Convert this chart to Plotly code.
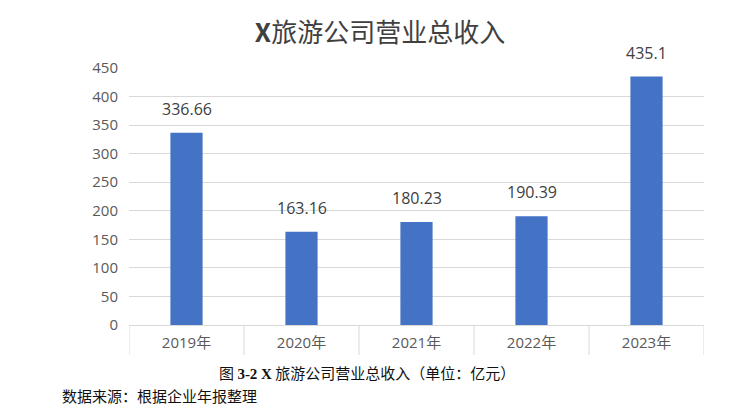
import plotly.graph_objects as go

categories = ["2019年", "2020年", "2021年", "2022年", "2023年"]
revenue = [336.66, 163.16, 180.23, 190.39, 435.1]
label_text = ["336.66", "163.16", "180.23", "190.39", "435.1"]
y_ticks = [0, 50, 100, 150, 200, 250, 300, 350, 400, 450]

# page body has an 8px default margin, so the figure is drawn 8px in
OFF = 8
W, H = 729 - OFF, 419 - OFF
ML, MR, MT, MB = 129 - OFF, 25, 68 - OFF, 94

fig = go.Figure()
fig.add_trace(go.Bar(
    x=categories, y=revenue,
    marker=dict(color="#4472C4", line=dict(width=0)),
    hoverinfo="skip",
))

# data labels above bars
for c, v, t in zip(categories, revenue, label_text):
    fig.add_annotation(x=c, y=v, xref="x", yref="y", text=t, showarrow=False,
                       yanchor="middle", yshift=24,
                       font=dict(family="Open Sans, Noto Sans", size=16, color="#404040"))

# category divider ticks below axis
plot_h = H - MT - MB
plot_w = W - ML - MR
for i in range(len(categories) + 1):
    fig.add_shape(type="line", xref="x", yref="paper",
                  x0=i - 0.5, x1=i - 0.5, y0=0, y1=-30 / plot_h,
                  line=dict(color="#D9D9D9", width=1))

fig.update_layout(
    width=W, height=H,
    margin=dict(l=ML, r=MR, t=MT, b=MB),
    paper_bgcolor="white", plot_bgcolor="white",
    bargap=0.72,
    showlegend=False,
    title=dict(text="<b>X</b>旅游公司营业总收入", x=(380 - OFF) / W, xanchor="center",
               xref="container", yref="container", y=1 - (33 - OFF) / H, yanchor="middle",
               font=dict(family="Noto Sans CJK SC", size=26, color="#404040")),
    xaxis=dict(
        type="category", range=[-0.5, 4.5],
        showgrid=False, showline=True, linecolor="#D9D9D9", linewidth=1,
        ticks="", ticklabelstandoff=4,
        tickfont=dict(family="Open Sans, Noto Sans CJK SC", size=15, color="#595959"),
    ),
    yaxis=dict(
        range=[0, 450], tickvals=y_ticks, ticktext=[str(v) for v in y_ticks],
        showgrid=True, gridcolor="#D9D9D9", gridwidth=1,
        zeroline=False, showline=False, ticks="", ticklabelstandoff=10,
        tickfont=dict(family="Open Sans, Noto Sans", size=15, color="#595959"),
    ),
    font=dict(family="Noto Sans CJK SC"),
)

# caption and source note (positions in page pixels converted to paper coords)
def px_x(px):
    return (px - OFF - ML) / plot_w

def px_y(py):
    return -(py - OFF - (H - MB)) / plot_h

fig.add_annotation(
    xref="paper", yref="paper", x=px_x(367), y=px_y(372),
    xanchor="center", yanchor="middle", showarrow=False,
    text='图 <span style="font-family:Liberation Serif"><b>3-2 X</b></span> 旅游公司营业总收入（单位：亿元）',
    font=dict(family="Noto Sans CJK SC", size=15, color="#111111"),
)
fig.add_annotation(
    xref="paper", yref="paper", x=px_x(60), y=px_y(395),
    xanchor="left", yanchor="middle", showarrow=False,
    text="数据来源：根据企业年报整理",
    font=dict(family="Noto Sans CJK SC", size=15, color="#111111"),
)

fig.write_html("out.html")
